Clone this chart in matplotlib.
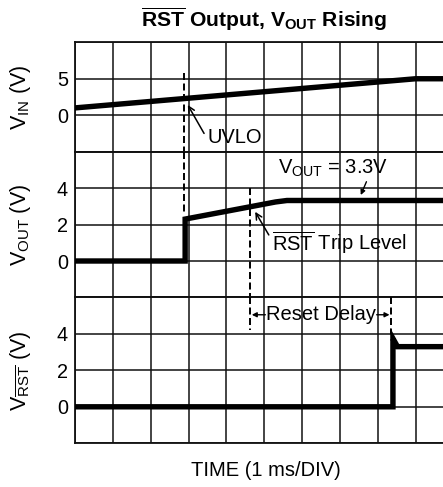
import matplotlib
matplotlib.use("Agg")
import matplotlib.pyplot as plt

plt.rcParams['font.family'] = ['Liberation Sans', 'DejaVu Sans']
plt.rcParams['mathtext.fontset'] = 'custom'
plt.rcParams['mathtext.rm'] = 'Liberation Sans'
plt.rcParams['mathtext.it'] = 'Liberation Sans:italic'
plt.rcParams['mathtext.bf'] = 'Liberation Sans:bold'

# ---- data (time in divisions, 1 ms/DIV) ----
vin_t = [0.0, 9.0, 10.5]
vin_v = [1.0, 5.0, 5.0]

vout_t = [0.0, 2.91, 2.91, 5.3, 5.6, 10.5]
vout_v = [0.0, 0.0, 2.3, 3.24, 3.32, 3.32]

vrst_t = [0.0, 8.40, 8.40, 8.52, 10.5]
vrst_v = [0.0, 0.0, 3.75, 3.3, 3.3]

uvlo_t = 2.87
trip_t = 4.63
delay_end_t = 8.36

vin_ticks = [-5, 0, 5, 10]
vin_labels = ['', '0', '5', '']
v_ticks = [-2, 0, 2, 4, 6]
v_labels = ['', '0', '2', '4', '']
x_grid = list(range(11))

W, H = 443, 487
fig = plt.figure(figsize=(W / 100, H / 100), dpi=100)

left_px, right_px = 75.0, 453.5
top_px, div_px = 42.3, 36.45

def add_panel(row0, nrows):
    y_top = top_px + row0 * div_px
    y_bot = y_top + nrows * div_px
    return fig.add_axes([left_px / W, 1 - y_bot / H, (right_px - left_px) / W, (y_bot - y_top) / H])

ax1 = add_panel(0, 3)
ax2 = add_panel(3, 4)
ax3 = add_panel(7, 4)

grid_kw = dict(color='#111111', linewidth=1.1)
for ax, ticks, labels, ylim in [(ax1, vin_ticks, vin_labels, (-5, 10)),
                                (ax2, v_ticks, v_labels, (-2, 6)),
                                (ax3, v_ticks, v_labels, (-2, 6))]:
    ax.set_xlim(0, 10)
    ax.set_ylim(*ylim)
    ax.set_xticks(x_grid)
    ax.set_xticklabels([])
    ax.set_yticks(ticks)
    ax.set_yticklabels(labels)
    ax.tick_params(length=0, pad=5.0, labelsize=14.3)
    ax.grid(True, **grid_kw)
    for s in ax.spines.values():
        s.set_color('#111111')
        s.set_linewidth(1.3)
    ax.set_facecolor('white')
    ax.yaxis.set_label_coords(-0.110, 0.5)

trace_kw = dict(color='black', linewidth=3.9, solid_capstyle='butt', solid_joinstyle='miter', zorder=5)
ax1.plot(vin_t, vin_v, **trace_kw)
ax2.plot(vout_t, vout_v, **trace_kw)
ax3.plot(vrst_t, vrst_v, **trace_kw)

dash_kw = dict(color='black', linewidth=1.4, linestyle=(0, (3.6, 1.8)), zorder=4, clip_on=False)
# UVLO marker
ax1.plot([uvlo_t, uvlo_t], [5.75, -5], **dash_kw)
ax2.plot([uvlo_t, uvlo_t], [6, 2.64], **dash_kw)
# RST trip level
ax2.plot([trip_t, trip_t], [4.0, -2], **dash_kw)
ax3.plot([trip_t, trip_t], [6, 4.2], **dash_kw)
# end of reset delay
ax3.plot([delay_end_t, delay_end_t], [6, 4.0], **dash_kw)

ylab_fs = 15.5
ax1.set_ylabel(r'V$_{\mathrm{IN}}$ (V)', fontsize=ylab_fs)
ax2.set_ylabel(r'V$_{\mathrm{OUT}}$ (V)', fontsize=ylab_fs)
ax3.set_ylabel(r'V$_{\overline{\mathrm{RST}}}$ (V)', fontsize=ylab_fs)

ann_fs = 14.5
open_arrow = dict(arrowstyle='->', color='black', lw=1.1, shrinkA=0, shrinkB=0,
                  mutation_scale=11)
small_arrow = dict(arrowstyle='-|>', color='black', lw=1.0, shrinkA=0, shrinkB=0,
                   mutation_scale=7)

# UVLO
ax1.annotate('', xy=(2.98, 1.4), xytext=(3.41, -2.5), arrowprops=open_arrow, zorder=6)
ax1.text(3.5, -3.0, 'UVLO', fontsize=ann_fs, ha='left', va='center', zorder=7)

# VOUT = 3.3V
ax2.text(6.83, 5.1, r'V$_{\mathrm{OUT}}$ = 3.3V', fontsize=ann_fs, ha='center', va='center',
         zorder=7)
ax2.annotate('', xy=(7.55, 3.62), xytext=(7.7, 4.35), arrowprops=small_arrow, zorder=6)

# RST trip level
ax2.annotate('', xy=(4.76, 2.7), xytext=(5.12, 1.43), arrowprops=open_arrow, zorder=6)
ax2.text(5.2, 1.0, r'$\overline{\mathrm{RST}}$ Trip Level', fontsize=ann_fs,
         ha='left', va='center', zorder=7)

# Reset delay
ax3.text(6.5, 5.05, 'Reset Delay', fontsize=ann_fs, ha='center', va='center', zorder=7)
ax3.annotate('', xy=(4.67, 5.05), xytext=(5.03, 5.05), arrowprops=small_arrow, zorder=6)
ax3.annotate('', xy=(8.31, 5.05), xytext=(7.97, 5.05), arrowprops=small_arrow, zorder=6)

# title and x label
fig.text(264 / W, 1 - 27 / H, r'$\mathbf{\overline{RST}}$ Output, V$_{\mathbf{OUT}}$ Rising',
         fontsize=15.2, fontweight='bold', ha='center', va='baseline')
fig.text(266 / W, 1 - 476 / H, 'TIME (1 ms/DIV)', fontsize=14.5, ha='center', va='baseline')

fig.savefig('out.png', dpi=100, facecolor='white')
